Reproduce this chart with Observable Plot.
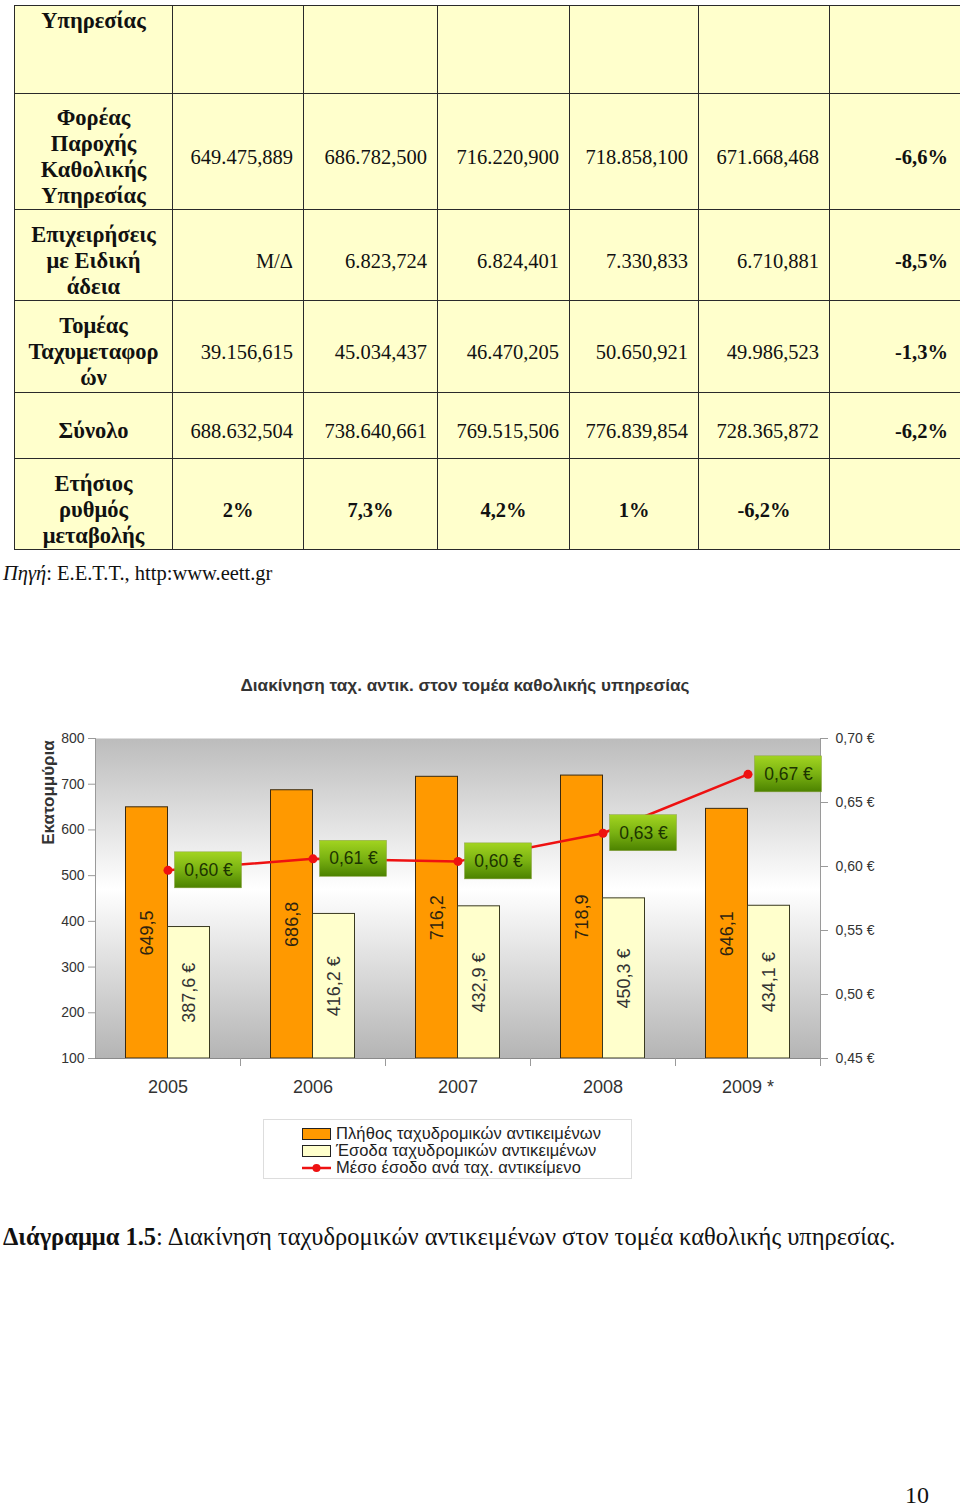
<!DOCTYPE html>
<html>
<head>
<meta charset="utf-8">
<script src="https://cdn.jsdelivr.net/npm/d3@7"></script>
<script src="https://cdn.jsdelivr.net/npm/@observablehq/plot@0.6"></script>
<style>
  html, body { margin: 0; padding: 0; background: #fff; }
  body { width: 960px; height: 1507px; position: relative; overflow: hidden; }
  #tbl { position: absolute; left: 14px; top: 5px; border-collapse: collapse; table-layout: fixed; width: 946px; }
  #tbl td { border: 1.5px solid #2a2a2a; background: #ffffcc; font-family: "Liberation Serif", "Times New Roman", serif;
            font-size: 20.5px; color: #111; padding: 12px 10px 0 4px; text-align: right; vertical-align: middle; white-space: nowrap; }
  #tbl td.lab { font-weight: bold; text-align: center; font-size: 22.5px; line-height: 26px; padding: 11px 1px 0 1px; }
  #tbl td.pct { font-weight: bold; padding-right: 12px; }
  #tbl td.ctr { font-weight: bold; text-align: center; padding-right: 4px; }
  #tbl tr.first td { vertical-align: top; padding-top: 2px; }
  #src { position: absolute; left: 3px; top: 562px; font-family: "Liberation Serif", serif; font-size: 20.5px; color: #111; }
  #title { position: absolute; left: 0; width: 930px; top: 675px; text-align: center; font-family: "Liberation Sans", Arial, sans-serif;
           font-weight: bold; font-size: 17.2px; color: #333; }
  #chart { position: absolute; left: 0; top: 720px; }
  #legend { position: absolute; left: 263px; top: 1119px; width: 369px; height: 60px; border: 1px solid #ddd; box-sizing: border-box;
            font-family: "Liberation Sans", Arial, sans-serif; font-size: 16.5px; color: #222; letter-spacing: 0.1px; }
  .li { position: absolute; left: 38px; height: 17px; line-height: 17px; white-space: nowrap; }
  .sw { display: inline-block; width: 27px; height: 10px; border: 1px solid #222; vertical-align: middle; margin-right: 5px; position: relative; top: -1px; }
  .ln { display: inline-block; width: 29px; height: 10px; vertical-align: middle; margin-right: 5px; position: relative; top: -1px; }
  #caption { position: absolute; left: 3px; top: 1223px; font-family: "Liberation Serif", serif; font-size: 24.5px; color: #111; white-space: nowrap; }
  #pageno { position: absolute; left: 905px; top: 1482px; font-family: "Liberation Serif", serif; font-size: 24px; color: #111; }
</style>
</head>
<body>
<table id="tbl"></table>
<div id="src"><i>Πηγή</i>: Ε.Ε.Τ.Τ., http:www.eett.gr</div>
<div id="title">Διακίνηση ταχ. αντικ. στον τομέα καθολικής υπηρεσίας</div>
<div id="chart"></div>
<div id="legend"></div>
<div id="caption"><b>Διάγραμμα 1.5</b>: Διακίνηση ταχυδρομικών αντικειμένων στον τομέα καθολικής υπηρεσίας.</div>
<div id="pageno">10</div>
<script>
// ---------- Table data ----------
const tableLabels = [
  "Υπηρεσίας",
  "Φορέας<br>Παροχής<br>Καθολικής<br>Υπηρεσίας",
  "Επιχειρήσεις<br>με Ειδική<br>άδεια",
  "Τομέας<br>Ταχυμεταφορ<br>ών",
  "Σύνολο",
  "Ετήσιος<br>ρυθμός<br>μεταβολής"
];
const rowUniversal = ["649.475,889", "686.782,500", "716.220,900", "718.858,100", "671.668,468", "-6,6%"];
const rowSpecial   = ["Μ/Δ", "6.823,724", "6.824,401", "7.330,833", "6.710,881", "-8,5%"];
const rowCourier   = ["39.156,615", "45.034,437", "46.470,205", "50.650,921", "49.986,523", "-1,3%"];
const rowTotal     = ["688.632,504", "738.640,661", "769.515,506", "776.839,854", "728.365,872", "-6,2%"];
const rowGrowth    = ["2%", "7,3%", "4,2%", "1%", "-6,2%", ""];
const rowEmpty     = ["", "", "", "", "", ""];

// ---------- Chart data ----------
const years   = ["2005", "2006", "2007", "2008", "2009 *"];
const volume  = [649.5, 686.8, 716.2, 718.9, 646.1];          // Πλήθος (εκατ.)
const revenue = [387.6, 416.2, 432.9, 450.3, 434.1];          // Έσοδα (εκατ. €)
const avgPrice = [0.597, 0.606, 0.604, 0.626, 0.672];          // Μέσο έσοδο (€)
const priceLabels = ["0,60 €", "0,61 €", "0,60 €", "0,63 €", "0,67 €"];
const volumeLabels = ["649,5", "686,8", "716,2", "718,9", "646,1"];
const revenueLabels = ["387,6 €", "416,2 €", "432,9 €", "450,3 €", "434,1 €"];
const leftTicks = [100, 200, 300, 400, 500, 600, 700, 800];
const rightTickValues = [0.45, 0.50, 0.55, 0.60, 0.65, 0.70];
const rightTickLabels = ["0,45 €", "0,50 €", "0,55 €", "0,60 €", "0,65 €", "0,70 €"];
const legendItems = ["Πλήθος ταχυδρομικών αντικειμένων", "Έσοδα ταχυδρομικών αντικειμένων", "Μέσο έσοδο ανά ταχ. αντικείμενο"];

// ---------- Build table ----------
const tbl = document.getElementById("tbl");
const colW = [158, 131, 134, 132, 129, 131, 131];
const cg = document.createElement("colgroup");
colW.forEach(w => { const c = document.createElement("col"); c.style.width = w + "px"; cg.appendChild(c); });
tbl.appendChild(cg);
const rows = [rowEmpty, rowUniversal, rowSpecial, rowCourier, rowTotal, rowGrowth];
const rowH = [88, 116, 91, 92, 66, 91];
rows.forEach((r, i) => {
  const tr = document.createElement("tr");
  tr.style.height = rowH[i] + "px";
  if (i === 0) tr.className = "first";
  const th = document.createElement("td");
  th.className = "lab";
  th.innerHTML = tableLabels[i];
  tr.appendChild(th);
  r.forEach((v, j) => {
    const td = document.createElement("td");
    td.textContent = v;
    if (i === 5) td.className = "ctr";
    else if (j === 5) td.className = "pct";
    tr.appendChild(td);
  });
  tbl.appendChild(tr);
});

// ---------- Chart ----------
const toLeft = p => 100 + (p - 0.45) / 0.25 * 700;  // map right (€) axis onto left axis units
const data = years.map((y, i) => ({
  year: y, volume: volume[i], revenue: revenue[i], price: avgPrice[i],
  pLabel: priceLabels[i], vLabel: volumeLabels[i], rLabel: revenueLabels[i]
}));
const pxPerUnit = 320 / 700;
const boxHalf = 18 / pxPerUnit;
const tickLen = 8 / pxPerUnit;

const defs = () => {
  const d = d3.create("svg:defs");
  const bg = d.append("linearGradient").attr("id", "bgGrad").attr("x1", 0).attr("y1", 0).attr("x2", 0).attr("y2", 1);
  bg.append("stop").attr("offset", "0").attr("stop-color", "#bcbcbc");
  bg.append("stop").attr("offset", "0.47").attr("stop-color", "#ffffff");
  bg.append("stop").attr("offset", "1").attr("stop-color", "#b4b4b4");
  const gb = d.append("linearGradient").attr("id", "boxGrad").attr("x1", 0).attr("y1", 0).attr("x2", 0).attr("y2", 1);
  gb.append("stop").attr("offset", "0").attr("stop-color", "#a2d420");
  gb.append("stop").attr("offset", "0.5").attr("stop-color", "#7ab212");
  gb.append("stop").attr("offset", "1").attr("stop-color", "#4c8200");
  return d.node();
};

const chart = Plot.plot({
  width: 960,
  height: 380,
  marginLeft: 95,
  marginRight: 140,
  marginTop: 18,
  marginBottom: 42,
  style: { fontFamily: "'Liberation Sans', Arial, sans-serif", color: "#333", background: "transparent" },
  x: { type: "band", domain: years, padding: 0, axis: null },
  y: { domain: [100, 800], axis: null },
  marks: [
    defs,
    Plot.frame({ fill: "url(#bgGrad)", stroke: null }),
    // bars
    Plot.barY(data, { x: "year", y1: 100, y2: "volume", fill: "#ff9900", stroke: "#3a2a10", strokeWidth: 1, insetLeft: 30.5, insetRight: 72.5 }),
    Plot.barY(data, { x: "year", y1: 100, y2: "revenue", fill: "#ffffcc", stroke: "#3a3a20", strokeWidth: 1, insetLeft: 72.5, insetRight: 30.5 }),
    // axis lines
    Plot.ruleX([years[0]], { x: d => d, dx: -72.5, y1: 100, y2: 800, stroke: "#9a9a9a" }),
    Plot.ruleX([years[years.length - 1]], { x: d => d, dx: 72.5, y1: 100 - tickLen, y2: 800, stroke: "#9a9a9a" }),
    Plot.ruleY([100], { stroke: "#8a8a8a" }),
    Plot.ruleX(years.slice(1), { x: d => d, dx: -72.5, y1: 100, y2: 100 - tickLen, stroke: "#9a9a9a" }),
    // line
    Plot.line(data, { x: "year", y: d => toLeft(d.price), stroke: "#ee1111", strokeWidth: 2.5 }),
    Plot.dot(data, { x: "year", y: d => toLeft(d.price), r: 4.5, fill: "#ee1111", stroke: null }),
    // price label boxes
    Plot.barY(data, { x: "year", y1: d => toLeft(d.price) - boxHalf, y2: d => toLeft(d.price) + boxHalf,
                      fill: "url(#boxGrad)", stroke: "#8aa040", strokeWidth: 0.5, insetLeft: 79.5, insetRight: -1.5 }),
    Plot.text(data, { x: "year", y: d => toLeft(d.price), text: "pLabel", dx: 40.5, fontSize: 17.5, fill: "#1c3400" }),
    // bar value labels
    Plot.text(data, { x: "year", y: d => (d.volume + 100) / 2, text: "vLabel", dx: -21, rotate: -90, fontSize: 18, fill: "#2e2410" }),
    Plot.text(data, { x: "year", y: d => (d.revenue + 100) / 2, text: "rLabel", dx: 21, rotate: -90, fontSize: 18, fill: "#333" }),
    // axes
    Plot.axisY({ anchor: "left", ticks: leftTicks, tickSize: 7, tickPadding: 4, fontSize: 14, stroke: "#9a9a9a", fill: "#333", label: null }),
    Plot.axisY({ anchor: "right", ticks: rightTickValues.map(toLeft), tickFormat: (v, i) => rightTickLabels[i],
                 tickSize: 7, tickPadding: 8, fontSize: 14, stroke: "#9a9a9a", fill: "#333", label: null }),
    Plot.axisX({ anchor: "bottom", tickSize: 0, tickPadding: 22, fontSize: 18, fill: "#333", label: null }),
    Plot.text(["Εκατομμύρια"], { frameAnchor: "top-left", dx: -47, dy: 54, rotate: -90, textAnchor: "middle", lineAnchor: "middle",
                                 fontSize: 17, fontWeight: "bold", fill: "#333" })
  ]
});
document.getElementById("chart").appendChild(chart);

// ---------- Legend ----------
const lg = document.getElementById("legend");
const swatches = [
  '<span class="sw" style="background:#ff9900"></span>',
  '<span class="sw" style="background:#ffffcc"></span>',
  '<svg class="ln" viewBox="0 0 29 10"><line x1="0" y1="5" x2="29" y2="5" stroke="#ee1111" stroke-width="2.5"/><circle cx="14.5" cy="5" r="4" fill="#ee1111"/></svg>'
];
legendItems.forEach((t, i) => {
  const d = document.createElement("div");
  d.className = "li";
  d.style.top = (5 + i * 17) + "px";
  d.innerHTML = swatches[i] + t;
  lg.appendChild(d);
});
</script>
</body>
</html>
